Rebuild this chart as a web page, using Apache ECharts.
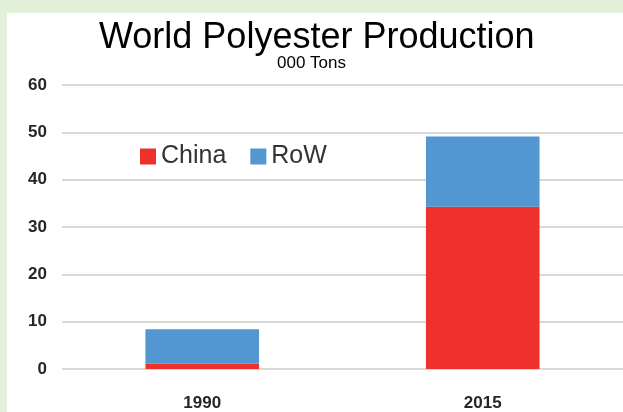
<!DOCTYPE html>
<html>
<head>
<meta charset="utf-8">
<script src="https://cdn.jsdelivr.net/npm/echarts@6/dist/echarts.min.js"></script>
<style>
  html, body { margin: 0; padding: 0; background: #e2efd9; width: 623px; height: 412px; overflow: hidden; }
  #chart { position: absolute; left: 7px; top: 13px; width: 616px; height: 399px; background: #ffffff; }
</style>
</head>
<body>
<div id="chart"></div>
<script>
const categories = ['1990', '2015'];
const chinaValues = [1.1, 34.3];
const rowValues = [7.3, 14.8];
const seriesNames = ['China', 'RoW'];
const titleText = 'World Polyester Production';
const subtitleText = '000 Tons';

const chart = echarts.init(document.getElementById('chart'), null, { renderer: 'canvas' });
chart.setOption({
  backgroundColor: '#ffffff',
  animation: false,
  title: [
    {
      text: titleText,
      left: 87,
      top: 2,
      padding: 5,
      textStyle: { fontFamily: 'Liberation Sans', fontSize: 36, fontWeight: 'normal', color: '#000000' }
    },
    {
      text: subtitleText,
      left: 265,
      top: 37,
      padding: 5,
      textStyle: { fontFamily: 'Liberation Sans', fontSize: 17, fontWeight: 'normal', color: '#000000' }
    }
  ],
  legend: {
    data: seriesNames,
    left: 128,
    top: 126,
    orient: 'horizontal',
    icon: 'rect',
    itemWidth: 16,
    itemHeight: 16,
    itemGap: 24,
    textStyle: { fontFamily: 'Liberation Sans', fontSize: 25, color: '#333333' }
  },
  grid: { left: 55, right: -6, top: 72, bottom: 39, containLabel: false },
  xAxis: {
    type: 'category',
    data: categories,
    axisLine: { show: false },
    axisTick: { show: false },
    axisLabel: { margin: 26, fontFamily: 'Liberation Sans', fontWeight: 'bold', fontSize: 17, color: '#262626' }
  },
  yAxis: {
    type: 'value',
    min: 0,
    max: 60,
    interval: 10,
    axisLine: { show: false },
    axisTick: { show: false },
    splitLine: { lineStyle: { color: '#d9d9d9', width: 2 } },
    axisLabel: { margin: 15, fontFamily: 'Liberation Sans', fontWeight: 'bold', fontSize: 17, color: '#262626' }
  },
  series: [
    { name: 'China', type: 'bar', stack: 'total', data: chinaValues, barWidth: '40.5%', itemStyle: { color: '#ee312c' } },
    { name: 'RoW', type: 'bar', stack: 'total', data: rowValues, barWidth: '40.5%', itemStyle: { color: '#5296d2' } }
  ]
});
</script>
</body>
</html>
